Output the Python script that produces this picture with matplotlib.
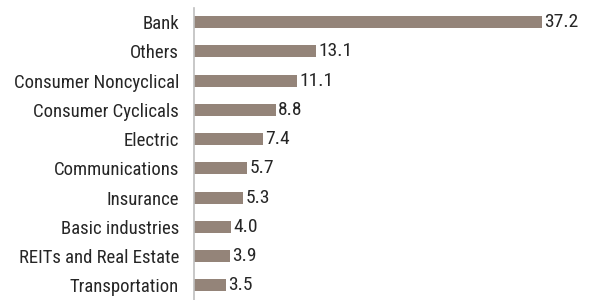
import matplotlib
matplotlib.use('Agg')
import matplotlib.pyplot as plt

categories = ['Bank', 'Others', 'Consumer Noncyclical', 'Consumer Cyclicals', 'Electric',
              'Communications', 'Insurance', 'Basic industries', 'REITs and Real Estate',
              'Transportation']
values = [37.2, 13.1, 11.1, 8.8, 7.4, 5.7, 5.3, 4.0, 3.9, 3.5]

plt.rcParams['font.family'] = ['Roboto Condensed', 'DejaVu Sans']

fig = plt.figure(figsize=(5.93, 3.0), dpi=100)
ax = fig.add_axes([193.5 / 593, 0.0, (580 - 193.5) / 593, 1 - 7.5 / 300])

y = list(range(len(categories)))
ax.barh(y, values, height=0.41, color='#948479')
for yi, v in zip(y, values):
    ax.text(v + 0.25, yi, f'{v:.1f}', va='center', ha='left', fontsize=14, color='#262626')

ax.set_ylim(len(categories) - 0.5, -0.5)
ax.set_xlim(0, 386.5 / 9.36)
ax.set_yticks(y)
ax.set_yticklabels(categories, fontsize=13.5, color='#262626')
ax.tick_params(axis='y', length=0, pad=10.5)
ax.set_xticks([])
for s in ['top', 'right', 'bottom']:
    ax.spines[s].set_visible(False)
ax.spines['left'].set_color('#bfbfbf')
ax.spines['left'].set_linewidth(1.2)

fig.savefig('out.png', dpi=100)
